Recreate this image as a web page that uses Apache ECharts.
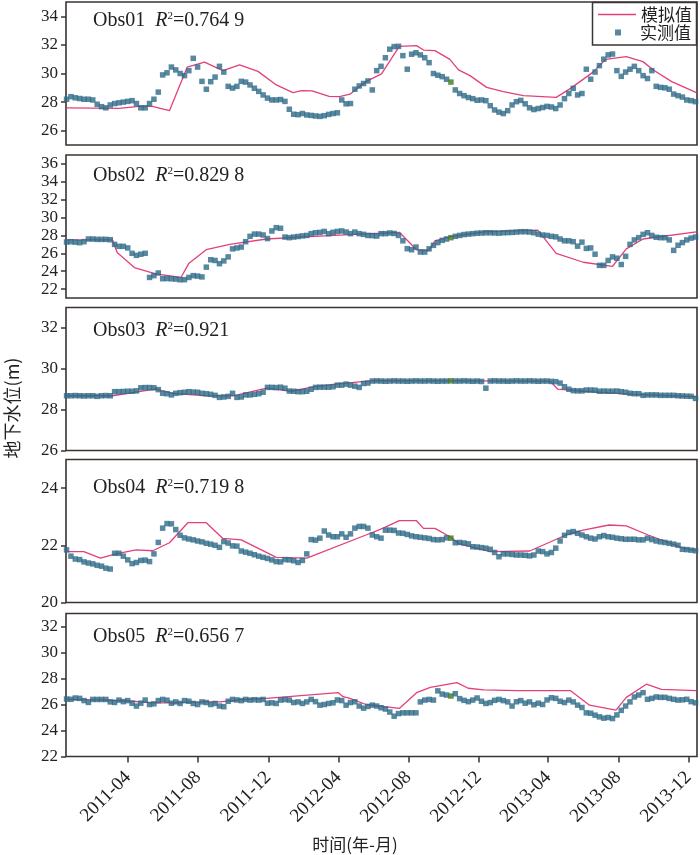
<!DOCTYPE html>
<html>
<head>
<meta charset="utf-8">
<script src="https://cdn.jsdelivr.net/npm/echarts@6/dist/echarts.min.js"></script>
<style>
html,body{margin:0;padding:0;background:#fff;}
#chart{width:700px;height:855px;}
</style>
</head>
<body>
<div id="chart"></div>
<script>
// ---------------- data ----------------
const panelNames = ['Obs01', 'Obs02', 'Obs03', 'Obs04', 'Obs05'];
const r2Labels = ['0.764 9', '0.829 8', '0.921', '0.719 8', '0.656 7'];
const xTickLabels = ['2011-04-01','2011-08-01','2011-12-01','2012-04-01','2012-08-01','2012-12-01','2013-04-01','2013-08-01','2013-12-01'];
const xRange = ['2010-12-14', '2013-12-16'];
const yMins = [25, 21, 26, 20, 22];
const yMaxs = [35, 37, 33, 25, 33];
const yTicks01 = [26, 28, 30, 32, 34];
const yTicks02 = [22, 24, 26, 28, 30, 32, 34, 36];
const yTicks03 = [26, 28, 30, 32];
const yTicks04 = [20, 22, 24];
const yTicks05 = [22, 24, 26, 28, 30, 32];

// observed values: one reading every obsStepDays days from obsStart
const obsStart = '2010-12-15';
const obsStepDays = 7.6;
const obs01 = [
 28.2,28.38,28.3,28.25,28.2,28.2,28.15,27.85,27.68,27.6,
 27.8,27.9,27.95,28.0,28.05,28.1,27.9,27.6,27.6,27.9,
 28.2,28.7,29.9,30.05,30.45,30.25,30.0,29.85,30.2,31.06,
 30.45,29.45,28.9,29.43,29.75,30.5,30.1,29.1,28.98,29.1,
 29.45,29.4,29.2,28.97,28.75,28.5,28.28,28.15,28.15,28.18,
 28.05,27.5,27.15,27.12,27.2,27.1,27.07,27.03,27.0,27.05,
 27.14,27.2,27.25,28.15,27.88,27.9,28.9,29.13,29.3,29.48,
 28.85,30.2,30.5,31.1,31.7,31.88,31.9,31.25,30.3,31.35,
 31.45,31.3,31.1,30.76,30.0,29.88,29.78,29.6,29.4,28.85,
 28.6,28.45,28.32,28.24,28.13,28.15,28.1,27.75,27.45,27.3,
 27.2,27.4,27.8,28.03,28.12,27.88,27.6,27.48,27.55,27.62,
 27.7,27.66,27.55,27.8,28.24,28.6,28.96,28.5,28.6,30.3,
 29.6,30.1,30.55,31.0,31.3,31.36,30.2,29.8,30.1,30.3,
 30.5,30.2,29.85,29.65,30.2,29.1,29.03,29.0,28.9,28.56,
 28.45,28.35,28.15,28.1,28.03
];
const obs02 = [
 27.26,27.3,27.25,27.19,27.3,27.6,27.6,27.56,27.56,27.56,
 27.52,27.0,26.78,26.78,26.6,26.0,25.77,25.9,26.0,23.3,
 23.5,23.8,23.16,23.18,23.15,23.12,23.04,23.05,23.3,23.5,
 23.45,23.36,24.45,25.28,25.2,24.84,25.15,25.6,26.5,26.6,
 26.7,27.3,27.9,28.15,28.15,28.05,27.65,28.5,28.87,28.8,
 27.82,27.75,27.82,27.88,27.95,28.0,28.2,28.3,28.34,28.45,
 28.2,28.35,28.45,28.5,28.38,28.2,28.38,28.2,28.12,28.0,
 27.98,27.93,28.2,28.2,28.27,28.22,28.0,27.4,26.52,26.4,
 26.7,26.14,26.14,26.5,26.89,27.2,27.45,27.6,27.75,27.9,
 28.0,28.1,28.15,28.2,28.25,28.27,28.3,28.3,28.28,28.26,
 28.3,28.32,28.34,28.38,28.42,28.42,28.38,28.3,28.14,28.05,
 28.0,27.9,27.84,27.6,27.4,27.4,27.3,26.8,27.25,26.55,
 26.6,25.9,24.65,24.65,25.2,25.6,25.45,24.75,25.66,27.0,
 27.5,27.75,28.12,28.3,28.0,27.8,27.75,27.75,27.5,26.33,
 26.9,27.2,27.5,27.7,27.82
];
const obs03 = [
 28.68,28.68,28.69,28.68,28.67,28.68,28.68,28.65,28.68,28.69,
 28.68,28.88,28.88,28.89,28.9,28.9,28.92,29.07,29.08,29.08,
 29.07,28.98,28.8,28.78,28.72,28.8,28.83,28.85,28.88,28.86,
 28.85,28.8,28.78,28.75,28.7,28.6,28.62,28.65,28.8,28.6,
 28.62,28.72,28.72,28.75,28.78,28.85,29.09,29.09,29.08,29.1,
 29.05,28.91,28.9,28.88,28.88,28.9,29.0,29.09,29.1,29.1,
 29.1,29.12,29.2,29.2,29.25,29.2,29.15,29.09,29.28,29.3,
 29.4,29.41,29.4,29.39,29.4,29.41,29.4,29.4,29.39,29.4,
 29.41,29.4,29.4,29.41,29.4,29.39,29.4,29.4,29.41,29.4,
 29.4,29.41,29.4,29.39,29.4,29.38,29.05,29.4,29.41,29.4,
 29.4,29.39,29.4,29.41,29.4,29.4,29.41,29.4,29.39,29.4,
 29.4,29.38,29.37,29.3,29.12,29.0,28.93,28.92,28.92,28.96,
 28.96,28.95,28.9,28.91,28.9,28.9,28.91,28.88,28.85,28.8,
 28.78,28.78,28.7,28.72,28.72,28.72,28.7,28.7,28.7,28.7,
 28.68,28.67,28.66,28.65,28.55
];
const obs04 = [
 21.84,21.62,21.52,21.5,21.42,21.38,21.35,21.3,21.27,21.2,
 21.17,21.72,21.72,21.62,21.49,21.36,21.4,21.47,21.48,21.43,
 21.7,22.1,22.6,22.76,22.75,22.55,22.35,22.26,22.22,22.19,
 22.15,22.12,22.07,22.04,22.0,21.93,22.13,22.08,21.98,21.97,
 21.8,21.76,21.72,21.67,21.62,21.58,21.54,21.49,21.43,21.42,
 21.5,21.49,21.46,21.4,21.47,21.7,22.2,22.18,22.25,22.5,
 22.36,22.3,22.3,22.4,22.28,22.4,22.6,22.66,22.66,22.6,
 22.36,22.3,22.25,22.53,22.53,22.52,22.43,22.42,22.38,22.33,
 22.3,22.28,22.26,22.24,22.2,22.19,22.2,22.26,22.25,22.09,
 22.1,22.08,22.05,21.95,21.94,21.92,21.9,21.86,21.75,21.6,
 21.7,21.7,21.68,21.66,21.66,21.65,21.63,21.66,21.8,21.78,
 21.7,21.75,21.9,22.15,22.35,22.45,22.48,22.42,22.36,22.3,
 22.25,22.22,22.3,22.34,22.3,22.28,22.25,22.23,22.21,22.21,
 22.21,22.19,22.19,22.25,22.2,22.15,22.12,22.1,22.07,22.04,
 22.0,21.86,21.85,21.83,21.81
];
const obs05 = [
 26.42,26.4,26.5,26.47,26.3,26.16,26.39,26.39,26.39,26.39,
 26.2,26.16,26.34,26.22,26.3,26.1,25.88,26.1,26.34,26.0,
 26.05,26.3,26.39,26.33,26.1,26.2,26.08,26.3,26.25,26.08,
 26.0,26.2,26.15,26.0,26.08,25.88,25.83,26.25,26.39,26.35,
 26.3,26.39,26.34,26.37,26.34,26.39,26.1,26.13,26.08,26.34,
 26.38,26.34,26.15,26.2,26.08,26.2,26.39,26.22,25.95,26.0,
 26.08,26.13,26.35,26.3,25.95,26.15,26.21,25.88,25.72,25.85,
 25.95,25.88,25.75,25.65,25.42,25.1,25.3,25.36,25.36,25.36,
 25.36,26.2,26.34,26.39,26.34,27.05,26.8,26.73,26.65,26.83,
 26.45,26.32,26.22,26.34,26.5,26.25,26.08,26.15,26.32,26.39,
 26.3,26.2,25.88,26.21,26.3,26.1,26.2,25.98,26.1,26.0,
 26.35,26.52,26.47,26.25,26.15,26.34,26.2,25.95,25.77,25.36,
 25.33,25.18,25.05,24.95,25.0,24.92,25.2,25.55,25.88,26.2,
 26.58,26.73,26.91,26.4,26.47,26.58,26.55,26.55,26.47,26.4,
 26.34,26.36,26.4,26.22,26.13
];
const greenObsIndex = 88;

// simulated values (date, value)
const sim01 = [
 ['2010-12-15',27.6],['2011-03-16',27.56],['2011-04-20',27.7],['2011-05-13',27.7],['2011-06-12',27.4],
 ['2011-07-13',30.45],['2011-08-12',30.8],['2011-09-13',30.2],['2011-10-12',30.6],['2011-11-13',30.15],
 ['2011-12-15',29.2],['2012-01-13',28.66],['2012-01-28',28.8],['2012-02-15',28.78],['2012-03-16',28.4],
 ['2012-04-03',28.38],['2012-04-21',28.55],['2012-05-19',29.43],['2012-06-15',29.97],['2012-07-16',31.9],
 ['2012-08-15',31.95],['2012-08-27',31.64],['2012-09-16',31.6],['2012-10-12',30.99],['2012-10-27',30.25],
 ['2012-11-16',29.85],['2012-12-15',29.03],['2013-01-13',28.73],['2013-02-17',28.45],['2013-04-15',28.33],
 ['2013-05-10',28.96],['2013-06-17',30.06],['2013-07-10',30.99],['2013-08-15',31.18],['2013-09-13',30.83],
 ['2013-10-01',30.25],['2013-11-02',29.43],['2013-12-15',28.66]
];
const sim02 = [
 ['2010-12-15',27.5],['2011-03-05',27.5],['2011-03-13',26.1],['2011-04-12',24.4],['2011-05-19',23.7],
 ['2011-07-02',23.3],['2011-07-16',24.9],['2011-08-15',26.4],['2011-09-25',27.0],['2011-11-28',27.6],
 ['2012-01-25',27.8],['2012-04-21',28.1],['2012-07-16',28.35],['2012-08-15',26.4],['2012-09-05',26.3],
 ['2012-09-16',27.4],['2012-10-12',27.85],['2012-12-10',28.4],['2013-03-14',28.6],['2013-04-15',26.0],
 ['2013-06-01',25.0],['2013-07-22',24.55],['2013-08-15',26.5],['2013-09-13',27.6],['2013-12-15',28.4]
];
const sim03 = [
 ['2010-12-15',28.68],['2011-03-05',28.68],['2011-04-20',28.88],['2011-05-19',29.0],['2011-06-18',28.8],
 ['2011-08-15',28.67],['2011-10-01',28.67],['2011-11-28',29.05],['2012-01-10',28.9],['2012-02-15',29.1],
 ['2012-03-26',29.25],['2012-06-01',29.42],['2013-04-04',29.4],['2013-04-18',29.0],['2013-06-01',28.9],
 ['2013-08-27',28.75],['2013-12-15',28.63]
];
const sim04 = [
 ['2010-12-15',21.78],['2011-01-14',21.78],['2011-02-12',21.55],['2011-03-11',21.7],['2011-04-15',21.84],
 ['2011-05-14',21.81],['2011-06-12',22.09],['2011-07-14',22.79],['2011-08-15',22.79],['2011-09-13',22.24],
 ['2011-10-15',22.19],['2011-12-15',21.58],['2012-02-06',21.55],['2012-05-19',22.36],['2012-06-17',22.59],
 ['2012-07-16',22.86],['2012-08-15',22.86],['2012-08-27',22.59],['2012-09-16',22.59],['2012-10-12',22.3],
 ['2012-10-29',22.05],['2012-12-21',21.78],['2013-02-28',21.8],['2013-05-02',22.36],['2013-06-01',22.53],
 ['2013-07-16',22.71],['2013-08-15',22.68],['2013-09-22',22.36],['2013-11-22',21.9],['2013-12-15',21.81]
];
const sim05 = [
 ['2010-12-15',26.4],['2011-02-12',26.35],['2011-04-09',26.25],['2011-05-14',26.13],['2011-06-17',26.13],
 ['2011-08-04',26.2],['2011-09-08',26.2],['2011-10-12',26.35],['2011-11-28',26.47],['2012-04-01',26.91],
 ['2012-04-09',26.6],['2012-04-21',26.47],['2012-05-19',26.0],['2012-07-16',25.7],['2012-08-15',26.91],
 ['2012-09-08',27.32],['2012-10-24',27.68],['2012-11-13',27.25],['2012-12-10',27.12],['2013-02-06',27.06],
 ['2013-05-10',27.06],['2013-06-12',25.95],['2013-07-28',25.57],['2013-08-15',26.55],['2013-09-19',27.56],
 ['2013-10-15',27.17],['2013-12-15',27.06]
];

// ---------------- build ----------------
const DAY = 86400000;
const obsSets = [obs01, obs02, obs03, obs04, obs05];
const simSets = [sim01, sim02, sim03, sim04, sim05];
const yTickSets = [yTicks01, yTicks02, yTicks03, yTicks04, yTicks05];

const gridTops = [2, 155, 307.5, 459.5, 613.5];
const gridH = 143;
const labelTops = [10, 165, 319.5, 477, 626];
const SERIF = '"Liberation Serif","Times New Roman",serif';
const CJK = '"Noto Sans CJK SC","Noto Sans",sans-serif';
const BORDER = '#3a3432';
const TXT = '#222';
const LINE_C = '#e3407a';
const OBS_C = '#2d6a87';
const GREEN_C = '#3f7a1e';

const t0 = Date.parse(obsStart);
const xMin = Date.parse(xRange[0]);
const xMax = Date.parse(xRange[1]);
const xTicks = xTickLabels.map(d => Date.parse(d));

function fmtDate(v) {
  const d = new Date(v);
  return d.getUTCFullYear() + '-' + String(d.getUTCMonth() + 1).padStart(2, '0');
}

const richBase = {fontFamily: SERIF, fontSize: 20, color: TXT, fontWeight: 'normal', lineHeight: 22};
const grids = [], xAxes = [], yAxes = [], series = [], titles = [];
for (let i = 0; i < 5; i++) {
  const last = i === 4;
  grids.push({left: 66, right: 3, top: gridTops[i], height: gridH, show: true,
    borderColor: BORDER, borderWidth: 1.6, backgroundColor: 'transparent', containLabel: false});
  xAxes.push({type: 'value', gridIndex: i, min: xMin, max: xMax,
    axisLine: {show: false}, splitLine: {show: false},
    axisTick: {show: last, customValues: xTicks, length: 6, lineStyle: {color: BORDER, width: 1.5}},
    axisLabel: {show: last, customValues: xTicks, rotate: 45, margin: 18, formatter: fmtDate,
      fontFamily: SERIF, fontSize: 19, color: TXT}});
  yAxes.push({type: 'value', gridIndex: i, min: yMins[i], max: yMaxs[i],
    axisLine: {show: false}, splitLine: {show: false},
    axisTick: {show: true, customValues: yTickSets[i], length: 5, lineStyle: {color: BORDER, width: 1.5}},
    axisLabel: {customValues: yTickSets[i], margin: 8, fontFamily: SERIF, fontSize: 17, color: TXT}});
  series.push({name: '模拟值', type: 'line', xAxisIndex: i, yAxisIndex: i, symbol: 'none',
    data: simSets[i].map(p => [Date.parse(p[0]), p[1]]),
    lineStyle: {color: LINE_C, width: 1.3}, itemStyle: {color: LINE_C}, z: 2, animation: false});
  series.push({name: '实测值', type: 'scatter', xAxisIndex: i, yAxisIndex: i, symbol: 'rect', symbolSize: 5.5,
    data: obsSets[i].map((v, k) => {
      const item = {value: [t0 + k * obsStepDays * DAY, v]};
      if (k === greenObsIndex) item.itemStyle = {color: GREEN_C};
      return item;
    }),
    itemStyle: {color: OBS_C}, z: 3, animation: false});
  titles.push({left: 93, top: labelTops[i], padding: 0,
    text: '{a|' + panelNames[i] + '  }{i|R}{s|2}{a|=' + r2Labels[i] + '}',
    textStyle: {fontWeight: 'normal', rich: {
      a: richBase,
      i: Object.assign({}, richBase, {fontStyle: 'italic'}),
      s: {fontFamily: SERIF, fontSize: 11, color: TXT, fontWeight: 'normal', lineHeight: 12, verticalAlign: 'top', padding: [1, 0, 0, 0]}
    }}});
}

const chart = echarts.init(document.getElementById('chart'), null, {renderer: 'canvas'});
chart.setOption({
  animation: false,
  backgroundColor: '#fff',
  title: titles,
  grid: grids,
  xAxis: xAxes,
  yAxis: yAxes,
  series: series,
  legend: [
    {data: [{name: '模拟值', icon: 'rect'}], left: 598, top: 6, orient: 'vertical', itemWidth: 38, itemHeight: 1.6, padding: 0, z: 8,
      textStyle: {fontFamily: CJK, fontSize: 17, color: TXT}},
    {data: [{name: '实测值', icon: 'rect'}], left: 615, top: 24, orient: 'vertical', itemWidth: 6, itemHeight: 6, padding: 0, z: 8,
      textStyle: {fontFamily: CJK, fontSize: 17, color: TXT, padding: [0, 0, 0, 14]}}
  ],
  graphic: [
    {type: 'rect', z: 6, shape: {x: 592.5, y: 2.5, width: 104, height: 42.5},
      style: {fill: '#fff', stroke: BORDER, lineWidth: 1.5}},
    {type: 'text', z: 6, x: 12, y: 408, rotation: Math.PI / 2,
      style: {text: '地下水位(m)', font: '18px "Noto Sans CJK SC"', fill: TXT, textAlign: 'center', textVerticalAlign: 'middle'}},
    {type: 'text', z: 6, x: 355, y: 845,
      style: {text: '时间(年-月)', font: '17px "Noto Sans CJK SC"', fill: TXT, textAlign: 'center', textVerticalAlign: 'middle'}}
  ]
});
</script>
</body>
</html>
